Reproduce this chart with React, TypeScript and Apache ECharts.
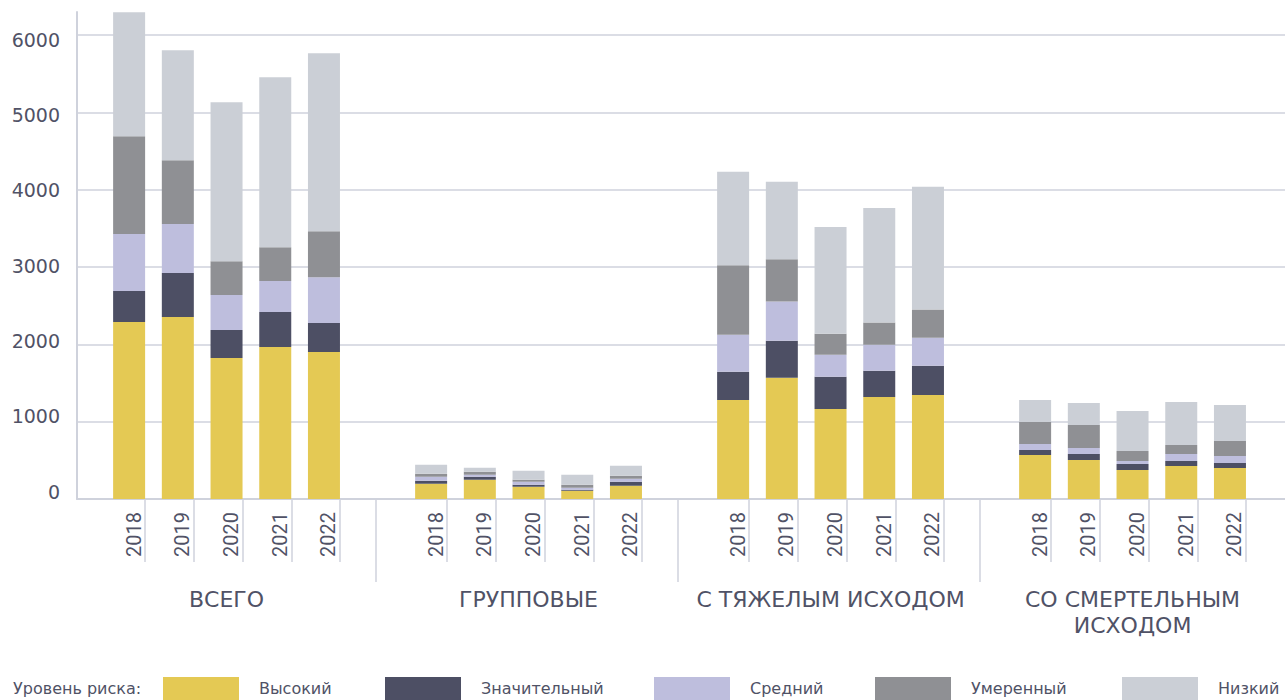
import React, { useEffect, useRef } from "react";
import * as echarts from "echarts";

const years = ["2018", "2019", "2020", "2021", "2022"];
const groups = ["ВСЕГО", "ГРУППОВЫЕ", "С ТЯЖЕЛЫМ ИСХОДОМ", "СО СМЕРТЕЛЬНЫМ\nИСХОДОМ"];
const riskLevels = ["Высокий", "Значительный", "Средний", "Умеренный", "Низкий"];
const yTicks = [0, 1000, 2000, 3000, 4000, 5000, 6000];

// values in group order (ВСЕГО, ГРУППОВЫЕ, С ТЯЖЕЛЫМ ИСХОДОМ, СО СМЕРТЕЛЬНЫМ ИСХОДОМ), years 2018..2022
const high = [2290, 2353, 1823, 1965, 1901, 198, 250, 159, 108, 172, 1281, 1567, 1164, 1320, 1346, 569, 504, 375, 427, 401];
const significant = [400, 569, 362, 453, 375, 39, 39, 26, 12, 52, 364, 481, 416, 338, 377, 65, 78, 78, 64, 64];
const medium = [737, 634, 453, 401, 594, 52, 26, 39, 26, 39, 481, 507, 286, 338, 364, 77, 77, 38, 91, 91];
const moderate = [1267, 827, 439, 439, 595, 39, 39, 26, 39, 39, 897, 546, 273, 286, 364, 285, 298, 130, 116, 194];
const low = [1603, 1423, 2056, 2198, 2302, 116, 51, 117, 130, 129, 1210, 1002, 1379, 1483, 1587, 284, 284, 517, 556, 465];

const seriesValues = [high, significant, medium, moderate, low];
const colors = ["#E4C954", "#4D4F64", "#BEBEDD", "#8F9094", "#CBCFD6"];

const TEXT = "#505266";
const AXIS = "#CFD2DC";
const FONT = "'DejaVu Sans', sans-serif";

// layout (in slot units along the x value axis)
const X_MAX = 24.8;
const FIRST = 1.07;
const GROUP_STEP = 6.2;
const BAR_HALF = 0.33;
const LABEL_SHIFT = 0.09;
const Y_MAX = 6300;

const GRID = { left: 77, right: 0, top: 12, bottom: 201 };
const PLOT_W = 1285 - GRID.left - GRID.right;
const PX = PLOT_W / X_MAX;

function barX(g: number, y: number) {
  return FIRST + g * GROUP_STEP + y;
}

export default function App() {
  const ref = useRef<HTMLDivElement>(null);

  useEffect(() => {
    if (!ref.current) return;
    const chart = echarts.init(ref.current, null, { renderer: "svg" });

    const centers: number[] = [];
    const yearOf: string[] = [];
    groups.forEach((_, g) => years.forEach((yr, y) => { centers.push(barX(g, y)); yearOf.push(yr); }));
    const yearTickPos = centers.map((c) => c + BAR_HALF);
    const yearLabelPos = centers.map((c) => c + LABEL_SHIFT);
    const sepPos = groups.slice(0, -1).map((_, g) => barX(g, years.length - 1) + 1.07);
    const groupPos = groups.map((_, g) => barX(g, 2));

    const nearest = (arr: number[], v: number) => {
      let best = 0;
      arr.forEach((a, i) => { if (Math.abs(a - v) < Math.abs(arr[best] - v)) best = i; });
      return best;
    };

    const layerGrids = [0, 1, 2, 3].map(() => ({ ...GRID }));
    const groupGrids = groups.map((_, g) => ({
      left: GRID.left + (barX(g, 0) - 0.5) * PX,
      width: years.length * PX,
      top: GRID.top,
      bottom: GRID.bottom,
    }));

    const xAxes: any[] = [
      {
        gridIndex: 0, type: "value", min: 0, max: X_MAX,
        axisLine: { show: true, onZero: true, lineStyle: { color: AXIS, width: 2 } },
        axisTick: { show: false }, axisLabel: { show: false }, splitLine: { show: false },
      },
      {
        gridIndex: 1, type: "value", min: 0, max: X_MAX, position: "bottom",
        axisLine: { show: false },
        axisTick: { show: true, customValues: yearTickPos, length: 63, lineStyle: { color: AXIS, width: 1.5 } },
        axisLabel: {
          show: true, customValues: yearLabelPos, rotate: 90, align: "left", verticalAlign: "middle",
          margin: 58, fontSize: 20, fontFamily: "Roboto, sans-serif", color: TEXT,
          formatter: (v: number) => yearOf[nearest(yearLabelPos, v)],
        },
        splitLine: { show: false },
      },
      {
        gridIndex: 2, type: "value", min: 0, max: X_MAX, position: "bottom",
        axisLine: { show: false },
        axisTick: { show: true, customValues: sepPos, length: 83, lineStyle: { color: AXIS, width: 1.5 } },
        axisLabel: {
          show: true, customValues: groupPos, margin: 87, fontSize: 22, lineHeight: 26,
          fontFamily: FONT, color: TEXT, align: "center", verticalAlign: "top",
          formatter: (v: number) => groups[nearest(groupPos, v)],
        },
        splitLine: { show: false },
      },
      { gridIndex: 3, type: "value", min: 0, max: 1, show: false },
    ];
    const yAxes: any[] = [
      {
        gridIndex: 0, type: "value", min: 0, max: Y_MAX, interval: 1000,
        axisLine: { show: true, lineStyle: { color: AXIS, width: 2 } },
        axisTick: { show: false }, axisLabel: { show: false },
        splitLine: { show: true, showMaxLine: false, lineStyle: { color: AXIS, width: 1.5 } },
      },
      { gridIndex: 1, type: "value", min: 0, max: 1, show: false },
      { gridIndex: 2, type: "value", min: 0, max: 1, show: false },
      {
        gridIndex: 3, type: "value", min: -99.6, max: 6368,
        axisLine: { show: false }, axisTick: { show: false }, splitLine: { show: false },
        axisLabel: {
          show: true, customValues: yTicks, margin: 17, fontSize: 19, fontFamily: FONT, color: TEXT,
          formatter: (v: number) => String(Math.round(v)),
        },
      },
    ];
    groups.forEach((_, g) => {
      xAxes.push({ gridIndex: 4 + g, type: "category", data: years, show: false });
      yAxes.push({ gridIndex: 4 + g, type: "value", min: 0, max: Y_MAX, show: false });
    });

    const series: any[] = [];
    groups.forEach((_, g) => {
      riskLevels.forEach((name, s) => {
        series.push({
          name,
          type: "bar",
          stack: "group" + g,
          xAxisIndex: 4 + g,
          yAxisIndex: 4 + g,
          barWidth: 32,
          itemStyle: { color: colors[s] },
          data: seriesValues[s].slice(g * years.length, (g + 1) * years.length),
        });
      });
    });

    const option: any = {
      animation: false,
      backgroundColor: "#ffffff",
      grid: [...layerGrids, ...groupGrids],
      xAxis: xAxes,
      yAxis: yAxes,
      legend: riskLevels.map((name, i) => ({
        data: [name],
        left: [163, 385, 654, 875, 1122][i],
        top: 677,
        padding: 0,
        itemWidth: 76,
        itemHeight: 23,
        icon: "rect",
        selectedMode: false,
        textStyle: { fontSize: 16, lineHeight: 16, color: TEXT, fontFamily: FONT, padding: [0, 0, 0, 15] },
      })),
      graphic: [
        {
          type: "text", left: 13, top: 680,
          style: { text: "Уровень риска:", fontSize: 16, lineHeight: 16, fill: TEXT, fontFamily: FONT },
        },
      ],
      series,
    };

    chart.setOption(option);
    return () => chart.dispose();
  }, []);

  return (
    <div
      ref={ref}
      style={{ position: "fixed", left: 0, top: 0, width: 1285, height: 700, background: "#fff" }}
    />
  );
}
